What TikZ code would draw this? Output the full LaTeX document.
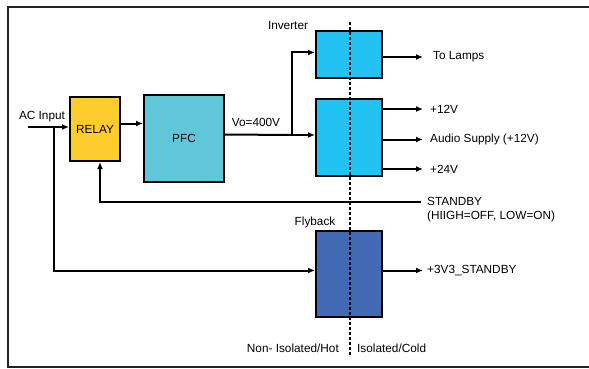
\documentclass[tikz,border=0pt]{standalone}
\usepackage{fontspec}
\setmainfont{Liberation Sans}
\usetikzlibrary{arrows.meta}
\definecolor{relayc}{HTML}{FFCC2E}
\definecolor{pfcc}{HTML}{60C7DB}
\definecolor{bluec}{HTML}{22C3F2}
\definecolor{flyc}{HTML}{4169B4}
\definecolor{framec}{HTML}{222222}
\tikzset{
  blk/.style={draw=black, line width=2pt, inner sep=0pt, font=\fontsize{11.8}{14}\selectfont},
  lbl/.style={inner sep=0pt, font=\fontsize{11.8}{14}\selectfont},
  conn/.style={line width=2pt, draw=black},
  arr/.style={conn, -{Latex[length=7pt,width=6pt]}},
}
\begin{document}
\begin{tikzpicture}[x=1pt,y=-1pt]
\useasboundingbox (0,0) rectangle (589,369);
% frame
\draw[framec, line width=2pt] (589,7) -- (7.5,7) -- (7.5,367) -- (589,367);
% boxes
\node[blk, fill=relayc, minimum width=50pt, minimum height=64pt] (relay) at (95,129) {RELAY};
\node[blk, fill=pfcc, minimum width=80pt, minimum height=87pt] (pfc) at (184,138.5) {PFC};
\node[blk, fill=bluec, minimum width=66pt, minimum height=47pt] (inv) at (349,54.5) {};
\node[blk, fill=bluec, minimum width=66pt, minimum height=77pt] (dcdc) at (349,137.5) {};
\node[blk, fill=flyc, minimum width=66pt, minimum height=86pt] (fly) at (349,274) {};
% dashed isolation line
\coordinate (dtop) at (350,22);
\coordinate (dbot) at (350,357);
\draw[line width=1.4pt, dash pattern=on 3pt off 2pt] (dtop) -- (dbot);
% labels
\node[lbl] (aclbl) at (42,117) {AC Input};
\node[lbl] (volbl) at (256,122) {Vo=400V};
\node[lbl] (invlbl) at (288,25) {Inverter};
\node[lbl] (flylbl) at (315,222) {Flyback};
\node[lbl, anchor=west] (lamps) at (433,57) {To Lamps};
\node[lbl, anchor=west] (v12) at (430,109) {+12V};
\node[lbl, anchor=west] (audio) at (430,139.5) {Audio Supply (+12V)};
\node[lbl, anchor=west] (v24) at (430,169) {+24V};
\node[lbl, anchor=west] (stby) at (427,201) {STANDBY};
\node[lbl, anchor=west] (stby2) at (427,216) {(HIIGH=OFF, LOW=ON)};
\node[lbl, anchor=west] (v33) at (427,270.5) {+3V3\_STANDBY};
\node[lbl, anchor=east] (hot) at (339,348) {Non- Isolated/Hot};
\node[lbl, anchor=west] (cold) at (357,348) {Isolated/Cold};
% coordinates for connectors
\coordinate (acin) at (28,127);
\coordinate (acj) at (53.5,127);
\coordinate (acb) at (53.5,270.5);
\coordinate (split) at (292,135);
\coordinate (stbyend) at (421,202);
\coordinate (stbycorner) at (100,202);
% connectors
\draw[arr] (acin) -- (acin -| relay.west);
\draw[arr] (acj) -- (acb) -- (acb -| fly.west);
\draw[arr] (relay.east |- 0,123.5) -- (pfc.west |- 0,123.5);
\draw[conn] (pfc.east |- 0,134.5) -- (split);
\draw[arr] (split) -- (dcdc.west |- split);
\draw[arr] (split) -- (292,52.5) -- (inv.west |- 0,52.5);
\draw[arr] (inv.east |- lamps) -- (423,57);
\draw[arr] (dcdc.east |- v12) -- (423,109);
\draw[arr] (dcdc.east |- audio) -- (423,139.5);
\draw[arr] (dcdc.east |- v24) -- (423,169);
\draw[arr] (fly.east |- v33) -- (423,270.5);
\draw[arr] (stbyend) -- (stbycorner) -- (stbycorner |- relay.south);
\end{tikzpicture}
\end{document}
